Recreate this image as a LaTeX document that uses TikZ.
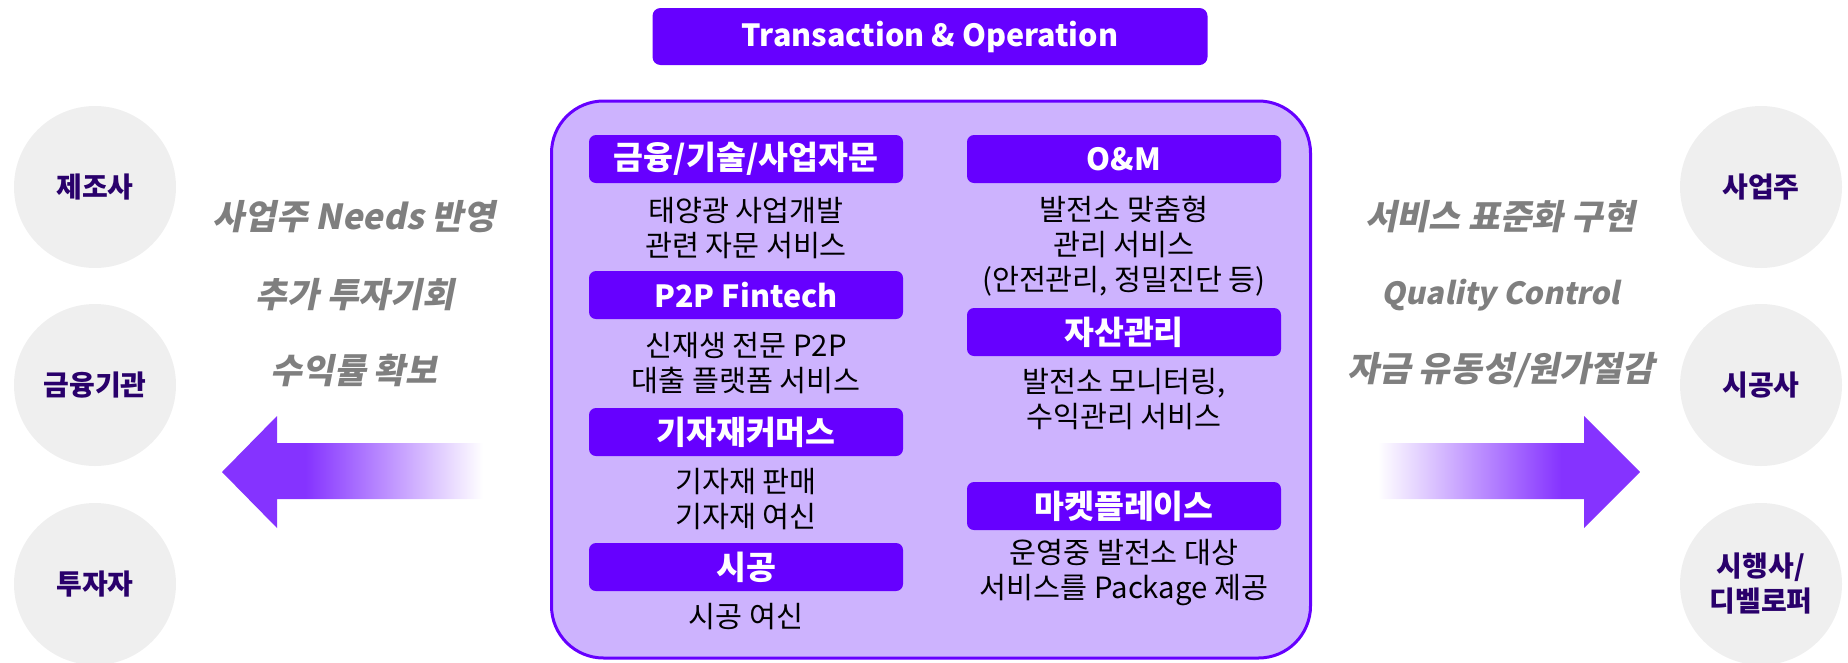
\documentclass[tikz,border=0pt]{standalone}
\usepackage{fontspec}
\usepackage{tikz}
\usetikzlibrary{shapes.geometric}
\setmainfont{Noto Sans CJK KR}
\newfontfamily\slantkr[FakeSlant=0.2]{Noto Sans CJK KR}
\definecolor{mainvio}{HTML}{6600FF}
\definecolor{arrowvio}{HTML}{8533FF}
\definecolor{boxlav}{HTML}{CDB3FE}
\definecolor{circgray}{HTML}{EFEFEF}
\definecolor{partytext}{HTML}{29006B}
\definecolor{notegray}{HTML}{7F7F7F}
\pgfdeclarehorizontalshading{fadeleft}{100bp}{color(0bp)=(arrowvio); color(41bp)=(arrowvio); color(75bp)=(white); color(100bp)=(white)}
\pgfdeclarehorizontalshading{faderight}{100bp}{color(0bp)=(white); color(25bp)=(white); color(60bp)=(arrowvio); color(100bp)=(arrowvio)}

\begin{document}
\begin{tikzpicture}[x=1pt,y=-1pt,node distance=69pt]
\tikzstyle{every node}=[inner sep=0pt,outer sep=0pt]
\tikzstyle{party}=[circle,fill=circgray,minimum size=162pt,align=center,
                   text=partytext,font=\bfseries\fontsize{28}{35}\selectfont]
\tikzstyle{head}=[rectangle,rounded corners=7pt,fill=mainvio,minimum width=314pt,
                  minimum height=48pt,text=white,font=\bfseries\fontsize{32.5}{36}\selectfont]
\tikzstyle{body}=[align=center,font=\fontsize{29.3}{35}\selectfont]
\tikzstyle{note}=[text=notegray,font=\slantkr\bfseries\fontsize{34.5}{38}\selectfont]
\useasboundingbox (0,0) rectangle (1848,662);

% parties
\node [party] (l1) at (95,187) {제조사};
\node [party] (l2) at (95,385) {금융기관};
\node [party] (l3) at (95,584) {투자자};
\node [party] (r1) at (1761,187) {사업주};
\node [party] (r2) at (1761,385) {시공사};
\node [party] (r3) at (1761,584) {시행사/\\디벨로퍼};

% platform
\draw [rounded corners=52pt,line width=3pt,draw=mainvio,fill=boxlav] (551.5,101) rectangle (1310.5,658);
\node [head,minimum width=555pt,minimum height=57pt,rounded corners=8pt,
       font=\bfseries\fontsize{30.5}{36}\selectfont] (t) at (930,36.5) {Transaction \& Operation};

\node [head] (h1) at (746,159) {금융/기술/사업자문};
\node [body,below of=h1,node distance=69.5pt] (b1) {태양광 사업개발\\관련 자문 서비스};
\node [head,font=\bfseries\fontsize{30.5}{36}\selectfont] (h2) at (746,295) {P2P Fintech};
\node [body,below of=h2,node distance=68.5pt] (b2) {신재생 전문 P2P\\대출 플랫폼 서비스};
\node [head] (h3) at (746,432) {기자재커머스};
\node [body,below of=h3,node distance=67pt] (b3) {기자재 판매\\기자재 여신};
\node [head] (h4) at (746,567) {시공};
\node [body,below of=h4,node distance=50pt] (b4) {시공 여신};

\node [head,font=\bfseries\fontsize{30.5}{36}\selectfont] (h5) at (1124,159) {O\&M};
\node [body,below of=h5,node distance=87pt] (b5) {발전소 맞춤형\\관리 서비스\\(안전관리, 정밀진단 등)};
\node [head] (h6) at (1124,332) {자산관리};
\node [body,below of=h6,node distance=67pt] (b6) {발전소 모니터링,\\수익관리 서비스};
\node [head] (h7) at (1124,506) {마켓플레이스};
\node [body,below of=h7,node distance=66.5pt] (b7) {운영중 발전소 대상\\서비스를 Package 제공};

% flows
\node [note] (n1) at (354,217) {사업주 Needs 반영};
\node [note] (n2) at (355,295) {추가 투자기회};
\node [note] (n3) at (354,370) {수익률 확보};
\node [note] (n4) at (1500,217) {서비스 표준화 구현};
\node [note,font=\slantkr\bfseries\fontsize{30.5}{36}\selectfont] (n5) at (1501,295) {Quality Control};
\node [note] (n6) at (1501,370) {자금 유동성/원가절감};

\shade [shading=fadeleft] (222,472) -- (277,416) -- (277,443) -- (483,443) -- (483,499)
   -- (277,499) -- (277,528) -- cycle;
\shade [shading=faderight] (1378,443) -- (1584,443) -- (1584,416) -- (1640,472)
   -- (1584,528) -- (1584,499) -- (1378,499) -- cycle;

\end{tikzpicture}
\end{document}
